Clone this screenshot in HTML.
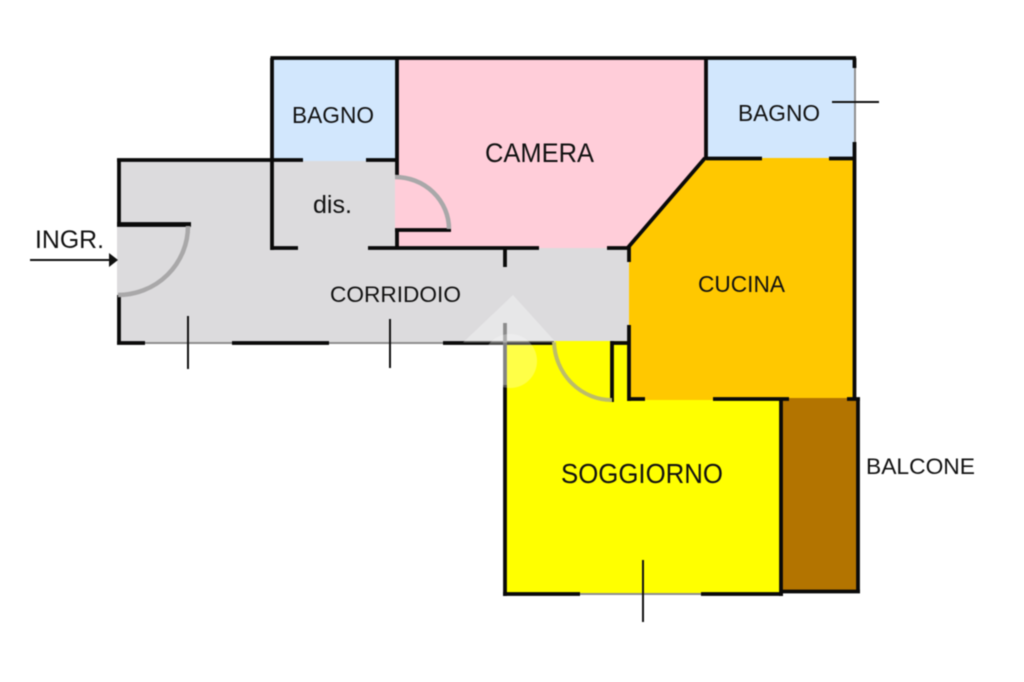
<!DOCTYPE html>
<html>
<head>
<meta charset="utf-8">
<style>
html,body{margin:0;padding:0;background:#fff}
svg{display:block;filter:blur(.45px)}
text{font-family:"Liberation Sans",sans-serif;fill:#111}
</style>
</head>
<body>
<svg width="1024" height="682" viewBox="0 0 1024 682" xmlns="http://www.w3.org/2000/svg">
<rect width="1024" height="682" fill="#fff"/>
<!-- Room fills -->
<polygon points="272,58 397,58 397,161 272,161" fill="#d2e7fd"/>
<polygon points="397,58 706,58 706,158 629,248 397,248" fill="#ffcdd9"/>
<polygon points="706,58 854,58 854,159 706,159" fill="#d2e7fd"/>
<polygon points="704,158 854,158 854,400 628,400 628,248" fill="#ffc800"/>
<polygon points="505,341 628,341 628,400 781,400 781,594 505,594" fill="#ffff00"/>
<rect x="781" y="398" width="77" height="193" fill="#b37400"/>
<polygon points="119,160 272,160 272,161 397,161 397,248 629,248 629,341 505,341 505,343 119,343" fill="#dcdbdd"/>
<polygon points="395,176 403,177 415,182 428,192 440,205 447,218 450,229 395,229" fill="#ffcdd9"/>
<rect x="117" y="226" width="3" height="69" fill="#dcdbdd"/>
<!-- Walls -->
<g stroke="#0a0a0a" stroke-width="3.800" fill="none" stroke-linecap="butt">
<path d="M270.500 58H856"/>
<path d="M272 58V250"/>
<path d="M397 58V176M397 229V249"/>
<path d="M706 58V159"/>
<path d="M854.500 58V68M854.500 142V399"/>
<path d="M119 158.500V224M119 295V344.500"/>
<path d="M117 160H272M272 160H303M366 160H397"/>
<path d="M706 158.500H762M829 158.500H855"/>
<path d="M705 158L628 247.500"/>
<path d="M272 248H298M368 248H539M607 248H630"/>
<path d="M629 247V262M629 325V401"/>
<path d="M505 248V267"/>
<path d="M395 230H451"/>
<path d="M117 343H145M232 343H329M443 343H554"/>
<path d="M612 341V402M612 343H629"/>
<path d="M628 399H645M713 399H789M847 399H860"/>
<path d="M505 323V596"/>
<path d="M781 398V596"/>
<path d="M858 398V593"/>
<path d="M781 591.500H860"/>
<path d="M503 594H580M701 594H783"/>
</g>
<path d="M117 224.500H191" stroke="#0a0a0a" stroke-width="4.800" fill="none"/>
<!-- Windows -->
<g stroke="#8f8f8f" stroke-width="2" fill="none">
<path d="M145 343H232M329 343H443M580 594H701"/>
<path d="M855 68V142"/>
</g>
<!-- Tick marks -->
<g stroke="#111" stroke-width="2" fill="none">
<path d="M188 316V369M390 319V368M643 560V622M832 102H879"/>
<path d="M30 260H112"/>
</g>
<polygon points="109,253 118,260 109,267" fill="#111"/>
<!-- Door arcs -->
<g stroke="#a9a8a9" stroke-width="4.500" fill="none">
<path d="M188 226A70 69 0 0 1 118 295"/>
<path d="M395 177A54 52 0 0 1 449 229"/>
</g>
<path d="M554 342A58 60 0 0 0 612 400" stroke="#bcbc6a" stroke-width="4" fill="none"/>
<!-- Watermark -->
<g fill="#fff">
<polygon points="513,295 556,342.500 463,342.500" opacity=".33"/>
<circle cx="510" cy="361" r="27" opacity=".28"/>
<rect x="503" y="323" width="4" height="62" opacity=".3"/>
</g>
<!-- Labels -->
<text x="292" y="123" font-size="23" textLength="82" lengthAdjust="spacingAndGlyphs">BAGNO</text>
<text x="738" y="121" font-size="23" textLength="82" lengthAdjust="spacingAndGlyphs">BAGNO</text>
<text x="485" y="162" font-size="27" textLength="109" lengthAdjust="spacingAndGlyphs">CAMERA</text>
<text x="313" y="213" font-size="25" textLength="39" lengthAdjust="spacingAndGlyphs">dis.</text>
<text x="330" y="302" font-size="22.500" textLength="131" lengthAdjust="spacingAndGlyphs">CORRIDOIO</text>
<text x="698" y="292" font-size="23" textLength="87" lengthAdjust="spacingAndGlyphs">CUCINA</text>
<text x="561" y="483" font-size="27.500" textLength="162" lengthAdjust="spacingAndGlyphs">SOGGIORNO</text>
<text x="866" y="474" font-size="22.500" textLength="109" lengthAdjust="spacingAndGlyphs">BALCONE</text>
<text x="35" y="248" font-size="25" textLength="69" lengthAdjust="spacingAndGlyphs">INGR.</text>
</svg>
</body>
</html>
